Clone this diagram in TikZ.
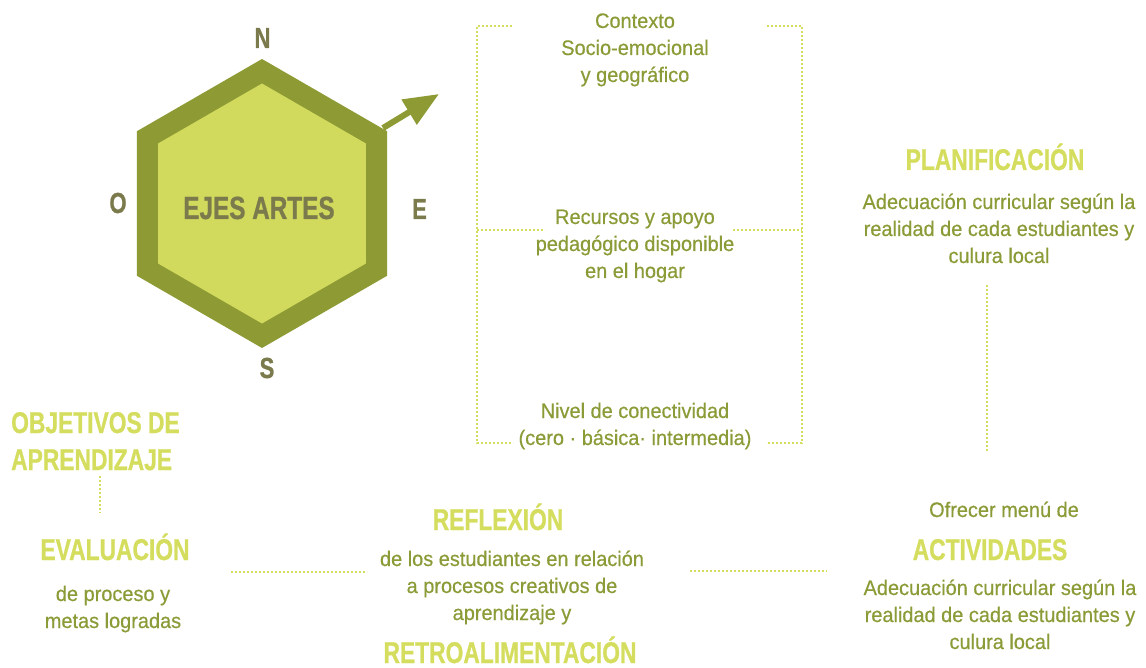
\documentclass[tikz,border=0pt]{standalone}
\usepackage{fontspec}
\setmainfont{Liberation Sans}
\newfontfamily\headfont{Liberation Sans}[FakeStretch=0.76,FakeBold=0.8]
\newfontfamily\bodyfont{Liberation Sans}[FakeStretch=0.95,FakeBold=0.5]
\usetikzlibrary{arrows.meta}
\definecolor{hexdark}{HTML}{8E9A34}
\definecolor{hexlight}{HTML}{D1DA5D}
\definecolor{limec}{HTML}{D4DD5E}
\definecolor{olivetext}{HTML}{8B9B37}
\definecolor{graylab}{HTML}{7A7A4C}
\begin{document}
\begin{tikzpicture}[x=1pt,y=-1pt,
  head/.style={font=\headfont\bfseries\fontsize{30}{37}\selectfont, text=limec, inner sep=0pt, anchor=base},
  body/.style={font=\bodyfont\fontsize{21}{27}\selectfont, text=olivetext, inner sep=0pt, align=center, anchor=base},
  compass/.style={font=\headfont\bfseries\fontsize{29}{32}\selectfont, text=graylab, inner sep=0pt, anchor=base},
  dots/.style={draw=limec, line width=1.8pt, dash pattern=on 1.8pt off 2.2pt}]
\useasboundingbox (0,0) rectangle (1146,668);
% hexagon
\coordinate (hc) at (262,203.5);
\fill[hexdark] (hc) +(90:144.5) -- +(150:144.5) -- +(210:144.5) -- +(270:144.5) -- +(330:144.5) -- +(30:144.5) -- cycle;
\fill[hexlight] (hc) +(90:120) -- +(150:120) -- +(210:120) -- +(270:120) -- +(330:120) -- +(30:120) -- cycle;
\node[font=\headfont\bfseries\fontsize{32}{36}\selectfont, text=graylab, inner sep=0pt, anchor=base] (ejes) at (259,219) {EJES ARTES};
\node[compass] (N) at (262.5,48) {N};
\node[compass] (O) at (118,213) {O};
\node[compass] (E) at (419.5,219) {E};
\node[compass] (S) at (267,378) {S};
% arrow
\coordinate (arrS) at (383,128);
\coordinate (arrE) at (439,94);
\draw[hexdark, line width=6pt, -{Triangle[length=35pt,width=28pt]}] (arrS) -- (arrE);
% bracket texts (anchor = baseline of last line)
\node[body] (ctx) at (635,82) {Contexto\\Socio-emocional\\y geográfico};
\node[body] (rec) at (635,278) {Recursos y apoyo\\pedagógico disponible\\en el hogar};
\node[body] (niv) at (635,445) {Nivel de conectividad\\(cero · básica· intermedia)};
% bracket
\draw[dots] (512,26) -- (477,26) -- (477,443) -- (513,443);
\draw[dots] (767,26) -- (802,26) -- (802,443) -- (766,443);
\draw[dots] (477,230) -- (545,230);
\draw[dots] (733,230) -- (802,230);
% planificacion
\node[head] (plan) at (995,170) {PLANIFICACIÓN};
\node[body] (plant) at (999,263) {Adecuación curricular según la\\realidad de cada estudiantes y\\culura local};
% objetivos / evaluacion
\node[head, anchor=base west, align=left] (obj) at (11,470) {OBJETIVOS DE\\APRENDIZAJE};
\node[head] (eval) at (115,560) {EVALUACIÓN};
\node[body] (evalt) at (113,628) {de proceso y\\metas logradas};
% reflexion
\node[head] (refl) at (498,530) {REFLEXIÓN};
\node[body] (reflt) at (512,620) {de los estudiantes en relación\\a procesos creativos de\\aprendizaje y};
\node[head] (retro) at (510,663) {RETROALIMENTACIÓN};
% actividades
\node[body] (ofre) at (1004,517) {Ofrecer menú de};
\node[head] (act) at (990,560) {ACTIVIDADES};
\node[body] (actt) at (1000,649) {Adecuación curricular según la\\realidad de cada estudiantes y\\culura local};
% connectors
\coordinate (c1a) at (100,476); \coordinate (c1b) at (100,513);
\draw[dots] (c1a) -- (c1b);
\coordinate (c2a) at (231,572); \coordinate (c2b) at (367,572);
\draw[dots] (c2a) -- (c2b);
\coordinate (c3a) at (690,571); \coordinate (c3b) at (827,571);
\draw[dots] (c3a) -- (c3b);
\coordinate (c4a) at (987,285); \coordinate (c4b) at (987,452);
\draw[dots] (c4a) -- (c4b);
\end{tikzpicture}
\end{document}
